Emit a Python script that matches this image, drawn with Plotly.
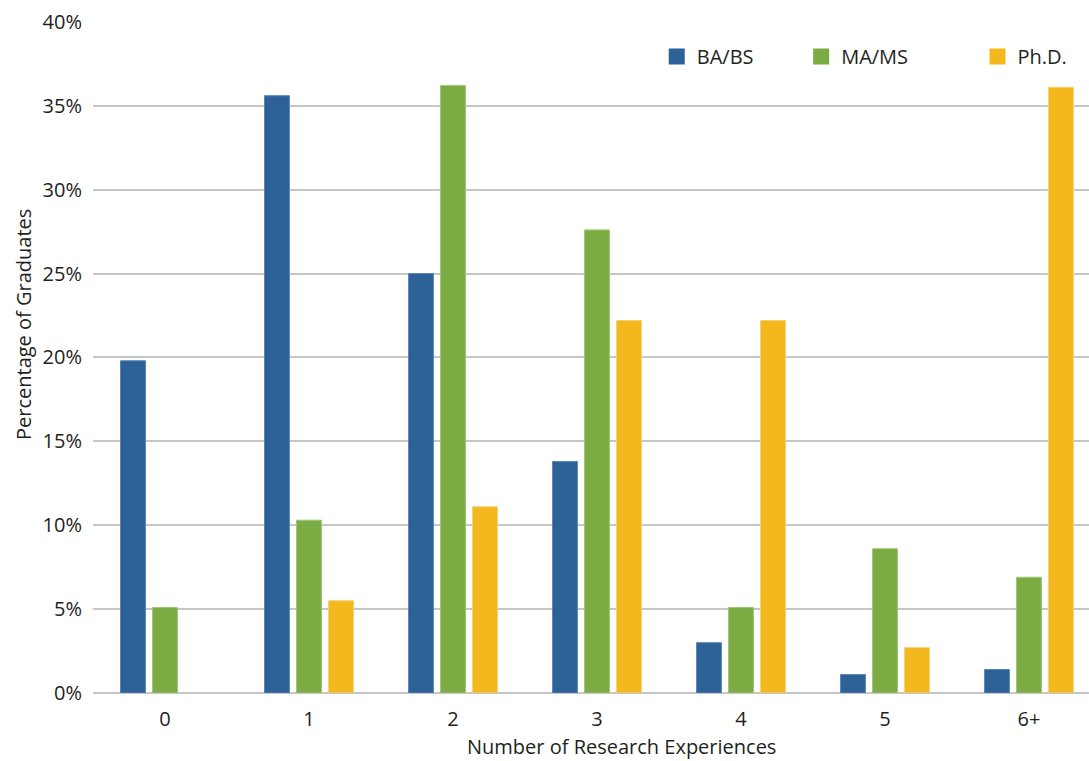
import plotly.graph_objects as go

categories = ["0", "1", "2", "3", "4", "5", "6+"]
series_names = ["BA/BS", "MA/MS", "Ph.D."]
ba_bs = [19.8, 35.6, 25.0, 13.8, 3.0, 1.1, 1.4]
ma_ms = [5.1, 10.3, 36.2, 27.6, 5.1, 8.6, 6.9]
phd = [None, 5.5, 11.1, 22.2, 22.2, 2.7, 36.1]
y_ticks = [0, 5, 10, 15, 20, 25, 30, 35, 40]
y_ticklabels = [f"{v}%" for v in y_ticks]

colors = ["#2D6299", "#7AAC43", "#F2B81E"]
edge = ["#5B86B4", "#A0C679", "#F7D072"]
FONT = "Open Sans"
TXT = "#231F20"
FS = 20

fig = go.Figure()
for name, vals, c, e in zip(series_names, [ba_bs, ma_ms, phd], colors, edge):
    fig.add_trace(go.Bar(
        x=categories, y=vals, name=name, showlegend=False,
        marker=dict(color=c, line=dict(color=e, width=1)),
        hoverinfo="x+y+name",
    ))

# legend entries (square markers)
legend_ids = ["legend", "legend2", "legend3"]
legend_x = [0.566, 0.711, 0.888]
for name, c, lid in zip(series_names, colors, legend_ids):
    fig.add_trace(go.Scatter(
        x=[None], y=[None], mode="markers", name=name, legend=lid,
        marker=dict(symbol="square", size=16, color=c),
        showlegend=True,
    ))

leg_common = dict(orientation="h", xanchor="left", yanchor="middle", y=0.947,
                  bgcolor="rgba(0,0,0,0)", font=dict(family=FONT, size=FS, color=TXT),
                  itemwidth=30, tracegroupgap=0)
fig.update_layout(
    legend=dict(x=legend_x[0], **leg_common),
    legend2=dict(x=legend_x[1], **leg_common),
    legend3=dict(x=legend_x[2], **leg_common),
)

fig.update_layout(
    width=1089, height=761,
    margin=dict(l=93, r=0, t=21, b=68, pad=0, autoexpand=False),
    paper_bgcolor="white", plot_bgcolor="white",
    barmode="group", bargap=0.333, bargroupgap=0.22,
    font=dict(family=FONT, size=FS, color=TXT),
    xaxis=dict(
        type="category", range=[-0.5, 6.417],
        showgrid=False, showline=False, zeroline=False,
        ticks="", ticklabelstandoff=12,
        tickfont=dict(family=FONT, size=FS, color=TXT),
    ),
    yaxis=dict(
        range=[0, 40.05], tickmode="array", tickvals=y_ticks, ticktext=y_ticklabels,
        showgrid=True, gridcolor="#C6C6C6", gridwidth=1.5,
        zeroline=True, zerolinecolor="#C6C6C6", zerolinewidth=1.5,
        showline=False, ticks="", ticklabelstandoff=10,
        tickfont=dict(family=FONT, size=FS, color=TXT),
    ),
    annotations=[
        dict(text="Number of Research Experiences", xref="paper", yref="paper",
             x=(621 - 93) / (1089 - 93), y=-(746 - 693) / (693 - 21),
             xanchor="center", yanchor="middle", showarrow=False,
             font=dict(family=FONT, size=FS, color=TXT)),
        dict(text="Percentage of Graduates", xref="paper", yref="paper",
             x=-(93 - 24) / (1089 - 93), y=(693 - 325) / (693 - 21),
             xanchor="center", yanchor="middle", textangle=-90, showarrow=False,
             font=dict(family=FONT, size=FS, color=TXT)),
    ],
)

fig.write_html(
    "out.html",
    config={"displayModeBar": False},
    post_script="document.body.style.margin='0';document.body.style.overflow='hidden';",
)
